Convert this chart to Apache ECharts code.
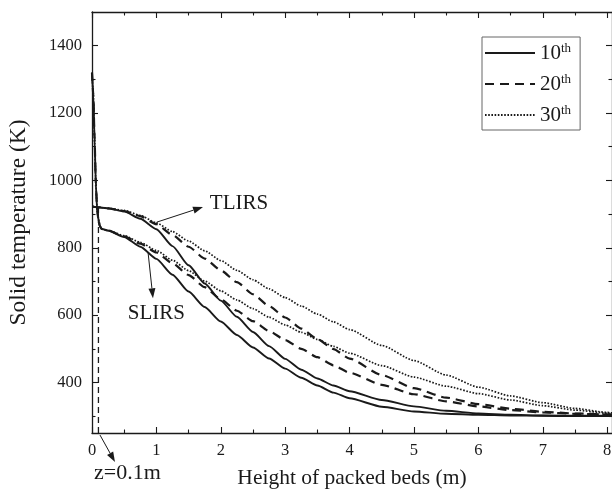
<!DOCTYPE html>
<html>
<head>
<meta charset="utf-8">
<script src="https://cdn.jsdelivr.net/npm/echarts@6/dist/echarts.min.js"></script>
<style>
  html, body { margin: 0; padding: 0; background: #ffffff; }
  #chart { width: 612px; height: 494px; }
</style>
</head>
<body>
<div id="chart"></div>
<script>
// Height along the packed bed (m)
const height = [0, 0.02, 0.04, 0.06, 0.08, 0.1, 0.12, 0.15, 0.25, 0.5, 0.75, 1, 1.25, 1.5, 1.75, 2,
  2.25, 2.5, 2.75, 3, 3.25, 3.5, 3.75, 4, 4.5, 5, 5.5, 6, 6.5, 7, 7.5, 8, 8.1];

// Solid temperature (K), TLIRS, after the 10th / 20th / 30th cycle
const tlirs10 = [922, 922, 921, 921, 921, 920, 920, 919, 917, 908, 886, 855, 805, 748, 694, 643,
  595, 550, 508, 470, 438, 412, 391, 374, 348, 329, 316, 308, 304, 302, 301, 301, 301];
const tlirs20 = [922, 922, 921, 921, 921, 920, 920, 919, 917, 909, 894, 870, 838, 803, 768, 733,
  698, 662, 627, 593, 560, 529, 499, 471, 422, 383, 355, 336, 322, 313, 308, 305, 305];
const tlirs30 = [922, 922, 921, 921, 921, 920, 920, 919, 917, 911, 896, 874, 848, 820, 791, 762,
  733, 705, 678, 652, 627, 603, 580, 557, 510, 465, 422, 386, 360, 340, 323, 311, 309];

// Solid temperature (K), SLIRS, after the 10th / 20th / 30th cycle
const slirs10 = [1320, 1254, 1121, 988, 912, 885, 865, 856, 851, 832, 803, 767, 720, 670, 624, 581,
  541, 504, 471, 441, 414, 391, 370, 353, 328, 314, 307, 304, 302, 301, 300, 300, 300];
const slirs20 = [1320, 1254, 1121, 988, 912, 885, 865, 856, 851, 834, 812, 786, 754, 719, 683, 647,
  613, 582, 553, 526, 500, 475, 451, 429, 393, 365, 344, 329, 318, 311, 307, 305, 305];
const slirs30 = [1320, 1254, 1121, 988, 912, 885, 865, 856, 851, 836, 816, 792, 763, 732, 701, 672,
  645, 619, 594, 571, 549, 528, 507, 487, 450, 416, 389, 367, 348, 331, 318, 309, 308];

const cycles = ['10th', '20th', '30th'];

// Axis ticks
const xMajor = [0, 1, 2, 3, 4, 5, 6, 7, 8];
const xMinor = [0.5, 1.5, 2.5, 3.5, 4.5, 5.5, 6.5, 7.5];
const yMajor = [400, 600, 800, 1000, 1200, 1400];
const yMinor = [300, 500, 700, 900, 1100, 1300];

// Marker of the z = 0.1 m position
const zMark = 0.1;
const zMarkTop = 918;

const X_MIN = 0, X_MAX = 8.075, Y_MIN = 250, Y_MAX = 1500;
const FONT = 'Liberation Serif';
const INK = '#1a1a1a';

const chart = echarts.init(document.getElementById('chart'), null, { renderer: 'canvas' });

const tickStyle = { color: INK, width: 1.1 };
const plain = v => String(v);

function axisDef(position, range, ticks, len, withLine, labelMargin) {
  return {
    type: 'value', gridIndex: 0, position, min: range[0], max: range[1],
    axisLine: { show: withLine, onZero: false, lineStyle: { color: INK, width: 1.3 } },
    axisTick: { show: true, inside: true, length: len, customValues: ticks, lineStyle: tickStyle },
    axisLabel: labelMargin != null
      ? { show: true, customValues: ticks, formatter: plain, fontFamily: FONT, fontSize: 16.5, color: INK, margin: labelMargin }
      : { show: false },
    splitLine: { show: false }
  };
}

const xr = [X_MIN, X_MAX], yr = [Y_MIN, Y_MAX];
const xAxes = [
  axisDef('bottom', xr, xMajor, 6, true, 9),
  axisDef('bottom', xr, xMinor, 3.5, false, null),
  axisDef('top', xr, xMajor, 6, true, null),
  axisDef('top', xr, xMinor, 3.5, false, null)
];
Object.assign(xAxes[0], {
  name: 'Height of packed beds (m)', nameLocation: 'middle', nameGap: 34,
  nameTextStyle: { fontFamily: FONT, fontSize: 21.5, color: INK }
});

const yAxes = [
  axisDef('left', yr, yMajor, 6, true, 10),
  axisDef('left', yr, yMinor, 3.5, false, null),
  axisDef('right', yr, yMajor, 6, true, null),
  axisDef('right', yr, yMinor, 3.5, false, null)
];
Object.assign(yAxes[0], {
  name: 'Solid temperature (K)', nameLocation: 'middle', nameGap: 61, nameRotate: 90,
  nameTextStyle: { fontFamily: FONT, fontSize: 23.5, color: INK }
});

const styles = {
  '10th': { type: 'solid', width: 1.9 },
  '20th': { type: [9, 6], width: 2.2 },
  '30th': { type: [1.6, 1.6], width: 1.7 }
};

function curve(name, values, z) {
  return {
    type: 'line', name, xAxisIndex: 0, yAxisIndex: 0,
    data: height.map((h, i) => [h, values[i]]),
    symbol: 'none', smooth: 0.2, smoothMonotone: 'x', z,
    itemStyle: { color: INK },
    lineStyle: { color: INK, width: styles[name].width, type: styles[name].type },
    emphasis: { disabled: true }
  };
}

const series = [
  curve('10th', tlirs10, 5), curve('20th', tlirs20, 4), curve('30th', tlirs30, 3),
  curve('10th', slirs10, 5), curve('20th', slirs20, 4), curve('30th', slirs30, 3),
  {
    type: 'line', name: 'z = 0.1 m', xAxisIndex: 0, yAxisIndex: 0,
    data: [[zMark, Y_MIN], [zMark, zMarkTop]],
    symbol: 'none', silent: true,
    lineStyle: { color: INK, width: 1.3, type: [6, 4] }
  }
];

chart.setOption({
  animation: false,
  backgroundColor: '#ffffff',
  grid: { left: 92, top: 12, width: 520, height: 421, containLabel: false, outerBoundsMode: 'none' },
  xAxis: xAxes,
  yAxis: yAxes,
  legend: {
    data: cycles, orient: 'vertical', left: 482, top: 37,
    itemWidth: 50, itemHeight: 14, itemGap: 7, padding: [4, 9, 3, 2],
    borderColor: '#666', borderWidth: 1, selectedMode: false,
    itemStyle: { opacity: 0 },
    formatter: name => {
      const m = name.match(/^(\d+)(\D+)$/);
      return '{n|' + m[1] + '}{s|' + m[2] + '}';
    },
    textStyle: {
      fontFamily: FONT, fontSize: 21, color: INK, lineHeight: 24,
      rich: {
        n: { fontFamily: FONT, fontSize: 21, color: INK },
        s: { fontFamily: FONT, fontSize: 13, color: INK, padding: [0, 0, 9, 0] }
      }
    }
  },
  series
});

// Annotations, given in data units and converted to pixels
const at = (x, y) => chart.convertToPixel({ xAxisIndex: 0, yAxisIndex: 0 }, [x, y]);
const notes = [
  { text: 'TLIRS', x: 1.83, y: 932, align: 'left', size: 21 },
  { text: 'SLIRS', x: 1.0, y: 606, align: 'center', size: 21 },
  { text: 'z=0.1m', x: 0.55, y: 132, align: 'center', size: 22 }
];
const arrows = [
  [1.005, 876, 1.724, 921],
  [0.87, 787, 0.947, 650],
  [0.124, 244, 0.357, 164]
];

const graphics = [];
notes.forEach(n => {
  const p = at(n.x, n.y);
  graphics.push({
    type: 'text', x: p[0], y: p[1], silent: true,
    style: { text: n.text, fontFamily: FONT, fontSize: n.size, fill: INK, align: n.align, verticalAlign: 'middle' }
  });
});
arrows.forEach(a => {
  const p1 = at(a[0], a[1]);
  const p2 = at(a[2], a[3]);
  const dx = p2[0] - p1[0], dy = p2[1] - p1[1];
  const len = Math.hypot(dx, dy);
  const ux = dx / len, uy = dy / len;
  const head = 10, half = 3.5;
  const bx = p2[0] - ux * head, by = p2[1] - uy * head;
  graphics.push({
    type: 'line', silent: true,
    shape: { x1: p1[0], y1: p1[1], x2: bx, y2: by },
    style: { stroke: INK, lineWidth: 1 }
  });
  graphics.push({
    type: 'polygon', silent: true,
    shape: { points: [[p2[0], p2[1]], [bx - uy * half, by + ux * half], [bx + uy * half, by - ux * half]] },
    style: { fill: INK }
  });
});
chart.setOption({ graphic: graphics });
</script>
</body>
</html>
